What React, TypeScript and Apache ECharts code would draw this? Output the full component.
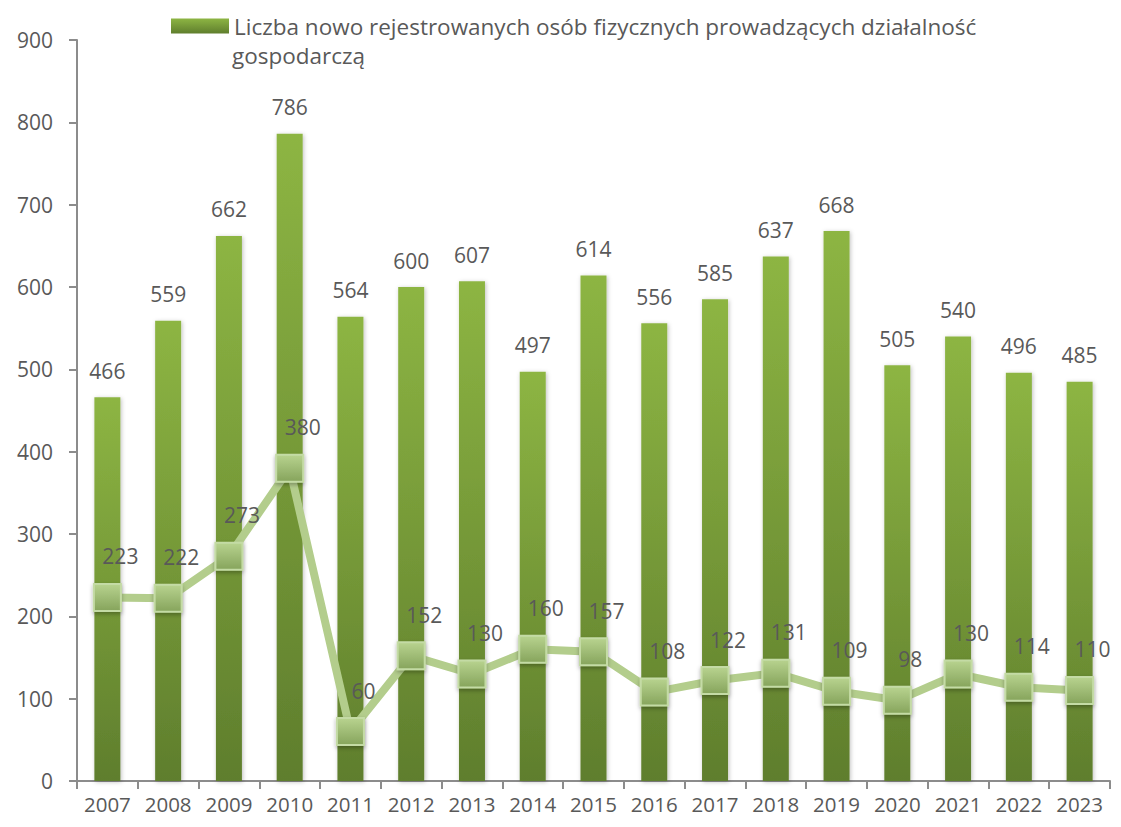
import React, { useEffect, useRef } from "react";
import * as echarts from "echarts";

const years = ["2007","2008","2009","2010","2011","2012","2013","2014","2015","2016","2017","2018","2019","2020","2021","2022","2023"];
const registered = [466, 559, 662, 786, 564, 600, 607, 497, 614, 556, 585, 637, 668, 505, 540, 496, 485];
const secondSeries = [223, 222, 273, 380, 60, 152, 130, 160, 157, 108, 122, 131, 109, 98, 130, 114, 110];
const barName = "Liczba nowo rejestrowanych osób fizycznych prowadzących działalność gospodarczą";
const legendLine1 = "Liczba nowo rejestrowanych osób fizycznych prowadzących działalność";
const legendLine2 = "gospodarczą";

export default function App() {
  const ref = useRef<HTMLDivElement>(null);
  useEffect(() => {
    const chart = echarts.init(ref.current!, null, { renderer: "svg" });
    const font = "'Open Sans', 'Liberation Sans', sans-serif";
    chart.setOption({
      animation: false,
      textStyle: { fontFamily: font },
      legend: {
        data: [{ name: barName, icon: "rect" }],
        top: 0,
        left: 158,
        itemWidth: 58,
        itemHeight: 15,
        itemGap: 4,
        formatter: () => legendLine1,
        textStyle: { fontSize: 22.5, color: "#595959", lineHeight: 26, fontFamily: font },
      },
      graphic: [
        {
          type: "text",
          left: 224,
          top: 36,
          style: { text: legendLine2, fontSize: 22.5, fill: "#595959", fontFamily: font },
        },
      ],
      grid: { left: 69, right: 3, top: 32, bottom: 38 },
      xAxis: {
        type: "category",
        data: years,
        axisLine: { lineStyle: { color: "#8c8c8c", width: 2 } },
        axisTick: { show: true, length: 8, lineStyle: { color: "#8c8c8c", width: 2 } },
        axisLabel: { fontSize: 20.5, color: "#595959", margin: 12, fontFamily: font, interval: 0 },
      },
      yAxis: {
        type: "value",
        min: 0,
        max: 900,
        interval: 100,
        splitLine: { show: false },
        axisLine: { show: true, lineStyle: { color: "#8c8c8c", width: 2 } },
        axisTick: { show: true, length: 8, lineStyle: { color: "#8c8c8c", width: 2 } },
        axisLabel: { fontSize: 21, color: "#595959", margin: 24, fontFamily: font },
      },
      series: [
        {
          name: barName,
          type: "bar",
          data: registered,
          barWidth: 26,
          itemStyle: {
            color: new echarts.graphic.LinearGradient(0, 0, 0, 1, [
              { offset: 0, color: "#8db543" },
              { offset: 1, color: "#5f7e2d" },
            ]),
            shadowColor: "rgba(0,0,0,0.25)",
            shadowBlur: 4,
            shadowOffsetX: 1,
            shadowOffsetY: 1,
          },
          label: {
            show: true,
            position: "top",
            distance: 16,
            fontSize: 21,
            color: "#595959",
            fontFamily: font,
          },
        },
        {
          name: "line",
          type: "line",
          data: secondSeries,
          symbol: "rect",
          symbolSize: 27,
          lineStyle: { color: "#b3cd8c", width: 8 },
          itemStyle: {
            color: new echarts.graphic.LinearGradient(0, 0, 0, 1, [
              { offset: 0, color: "#b8d38f" },
              { offset: 1, color: "#86a45c" },
            ]),
            borderColor: "#c4dba5",
            borderWidth: 2,
            shadowColor: "rgba(0,0,0,0.3)",
            shadowBlur: 4,
            shadowOffsetY: 2,
          },
          label: {
            show: true,
            position: "top",
            distance: 16,
            offset: [13, 0],
            fontSize: 21,
            color: "#595959",
            fontFamily: font,
          },
          z: 3,
        },
      ],
    });
    return () => chart.dispose();
  }, []);
  return <div ref={ref} style={{ width: 1105, height: 811 }} />;
}
